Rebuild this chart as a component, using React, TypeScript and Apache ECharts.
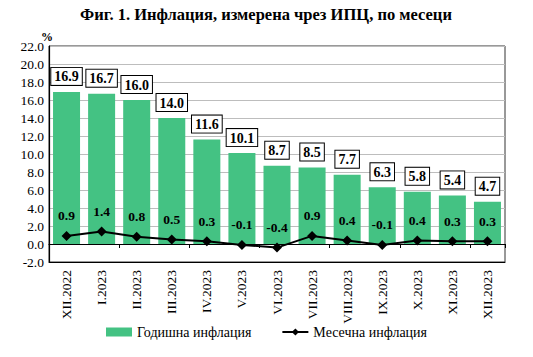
import React, { useEffect, useRef } from "react";
import * as echarts from "echarts";

const months = [
  "XII.2022", "I.2023", "II.2023", "III.2023", "IV.2023", "V.2023", "VI.2023",
  "VII.2023", "VIII.2023", "IX.2023", "X.2023", "XI.2023", "XII.2023",
];
const annualInflation = [16.9, 16.7, 16.0, 14.0, 11.6, 10.1, 8.7, 8.5, 7.7, 6.3, 5.8, 5.4, 4.7];
const monthlyInflation = [0.9, 1.4, 0.8, 0.5, 0.3, -0.1, -0.4, 0.9, 0.4, -0.1, 0.4, 0.3, 0.3];

const FONT = "Liberation Serif";

export default function App() {
  const ref = useRef<HTMLDivElement>(null);

  useEffect(() => {
    if (!ref.current) return;
    const chart = echarts.init(ref.current, null, { renderer: "svg" });
    chart.setOption({
      animation: false,
      backgroundColor: "#ffffff",
      textStyle: { fontFamily: FONT, color: "#000" },
      title: {
        text: "Фиг. 1. Инфлация, измерена чрез ИПЦ, по месеци",
        left: 261,
        textAlign: "center",
        top: 1,
        textStyle: { fontFamily: FONT, fontSize: 16.5, fontWeight: "bold", color: "#000" },
      },
      graphic: [
        {
          type: "text",
          left: 41,
          top: 31,
          style: { text: "%", font: `bold 12px ${FONT}`, fill: "#000" },
        },
      ],
      legend: {
        bottom: 13,
        left: "center",
        itemGap: 30,
        itemWidth: 26,
        itemHeight: 9,
        textStyle: { fontFamily: FONT, fontSize: 14, color: "#000" },
        data: [
          { name: "Годишна инфлация", icon: "rect" },
          { name: "Месечна инфлация" },
        ],
      },
      grid: {
        left: 49,
        right: 28,
        top: 46,
        bottom: 95,
        show: true,
        borderColor: "#333",
        borderWidth: 1,
      },
      xAxis: [
        {
          type: "category",
          data: months,
          position: "bottom",
          axisLine: { onZero: false, lineStyle: { color: "#000", width: 1 } },
          axisTick: { show: false },
          axisLabel: {
            rotate: 90,
            interval: 0,
            fontFamily: FONT,
            fontSize: 13.5,
            color: "#000",
            margin: 8,
          },
        },
        {
          type: "category",
          data: months,
          position: "bottom",
          axisLine: { onZero: true, lineStyle: { color: "#000", width: 1.2 } },
          axisTick: { show: true, inside: false, length: 4, lineStyle: { color: "#000" } },
          axisLabel: { show: false },
        },
      ],
      yAxis: {
        type: "value",
        min: -2,
        max: 22,
        interval: 2,
        axisLine: { show: true, lineStyle: { color: "#000", width: 1.2 } },
        axisTick: { show: false },
        axisLabel: {
          formatter: (v: number) => v.toFixed(1),
          fontFamily: FONT,
          fontSize: 13.5,
          color: "#000",
          margin: 5,
        },
        splitLine: { show: true, lineStyle: { color: "#bdbdbd", width: 1 } },
      },
      series: [
        {
          name: "Годишна инфлация",
          type: "bar",
          data: annualInflation,
          barCategoryGap: "23%",
          itemStyle: { color: "#44c283" },
          label: {
            show: true,
            position: "top",
            distance: 7,
            formatter: (p: any) => p.value.toFixed(1),
            fontFamily: FONT,
            fontSize: 14,
            fontWeight: "bold",
            color: "#000",
            backgroundColor: "#fff",
            borderColor: "#000",
            borderWidth: 1,
            padding: [2, 3, 1, 3],
          },
          z: 2,
        },
        {
          name: "Месечна инфлация",
          type: "line",
          data: monthlyInflation,
          symbol: "diamond",
          symbolSize: 10,
          lineStyle: { color: "#000", width: 2 },
          itemStyle: { color: "#000" },
          label: {
            show: true,
            position: "top",
            distance: 8,
            formatter: (p: any) => p.value.toFixed(1),
            fontFamily: FONT,
            fontSize: 13.5,
            fontWeight: "bold",
            color: "#000",
          },
          z: 5,
        },
      ],
    });
    return () => chart.dispose();
  }, []);

  return (
    <div
      ref={ref}
      style={{ position: "absolute", left: 0, top: 0, width: 533, height: 357 }}
    />
  );
}
